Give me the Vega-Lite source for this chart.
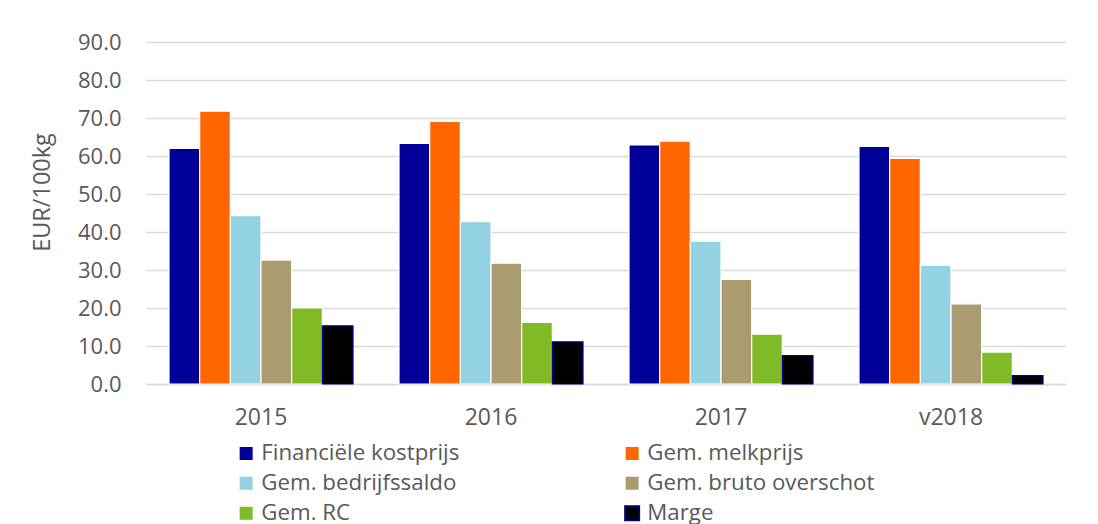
{
  "$schema": "https://vega.github.io/schema/vega-lite/v6.json",
  "width": 920,
  "height": 342,
  "autosize": {"type": "none"},
  "padding": {"left": 146, "top": 42, "right": 32, "bottom": 140},
  "background": "white",
  "config": {
    "font": "Open Sans",
    "view": {"stroke": null},
    "axis": {
      "labelFont": "Open Sans",
      "titleFont": "Open Sans",
      "labelColor": "#595959",
      "titleColor": "#595959",
      "labelFontSize": 22,
      "titleFontSize": 23.5,
      "titleFontWeight": "normal",
      "gridColor": "#D9D9D9",
      "gridWidth": 1.3,
      "ticks": false
    },
    "legend": {
      "labelFont": "Open Sans",
      "labelFontSize": 22.3,
      "labelColor": "#595959",
      "labelLimit": 400
    }
  },
  "data": {
    "values": [
      {"jaar": "2015", "reeks": "Financiële kostprijs", "waarde": 62.0},
      {"jaar": "2015", "reeks": "Gem. melkprijs", "waarde": 71.8},
      {"jaar": "2015", "reeks": "Gem. bedrijfssaldo", "waarde": 44.3},
      {"jaar": "2015", "reeks": "Gem. bruto overschot", "waarde": 32.6},
      {"jaar": "2015", "reeks": "Gem. RC", "waarde": 20.0},
      {"jaar": "2015", "reeks": "Marge", "waarde": 15.3},
      {"jaar": "2016", "reeks": "Financiële kostprijs", "waarde": 63.3},
      {"jaar": "2016", "reeks": "Gem. melkprijs", "waarde": 69.1},
      {"jaar": "2016", "reeks": "Gem. bedrijfssaldo", "waarde": 42.7},
      {"jaar": "2016", "reeks": "Gem. bruto overschot", "waarde": 31.8},
      {"jaar": "2016", "reeks": "Gem. RC", "waarde": 16.2},
      {"jaar": "2016", "reeks": "Marge", "waarde": 11.1},
      {"jaar": "2017", "reeks": "Financiële kostprijs", "waarde": 62.9},
      {"jaar": "2017", "reeks": "Gem. melkprijs", "waarde": 63.9},
      {"jaar": "2017", "reeks": "Gem. bedrijfssaldo", "waarde": 37.6},
      {"jaar": "2017", "reeks": "Gem. bruto overschot", "waarde": 27.5},
      {"jaar": "2017", "reeks": "Gem. RC", "waarde": 13.1},
      {"jaar": "2017", "reeks": "Marge", "waarde": 7.5},
      {"jaar": "v2018", "reeks": "Financiële kostprijs", "waarde": 62.5},
      {"jaar": "v2018", "reeks": "Gem. melkprijs", "waarde": 59.4},
      {"jaar": "v2018", "reeks": "Gem. bedrijfssaldo", "waarde": 31.3},
      {"jaar": "v2018", "reeks": "Gem. bruto overschot", "waarde": 21.1},
      {"jaar": "v2018", "reeks": "Gem. RC", "waarde": 8.4},
      {"jaar": "v2018", "reeks": "Marge", "waarde": 2.2}
    ]
  },
  "mark": {"type": "bar", "strokeWidth": 1.2},
  "encoding": {
    "x": {
      "field": "jaar",
      "type": "nominal",
      "sort": ["2015", "2016", "2017", "v2018"],
      "scale": {"paddingInner": 0.2, "paddingOuter": 0.1},
      "axis": {
        "title": null,
        "labelAngle": 0,
        "labelFontSize": 23,
        "labelPadding": 22,
        "domainColor": "#D9D9D9",
        "domainWidth": 1.3
      }
    },
    "xOffset": {
      "field": "reeks",
      "type": "nominal",
      "sort": ["Financiële kostprijs", "Gem. melkprijs", "Gem. bedrijfssaldo", "Gem. bruto overschot", "Gem. RC", "Marge"]
    },
    "y": {
      "field": "waarde",
      "type": "quantitative",
      "scale": {"domain": [0, 90], "nice": false},
      "axis": {
        "title": "EUR/100kg",
        "values": [0, 10, 20, 30, 40, 50, 60, 70, 80, 90],
        "format": ".1f",
        "domain": false,
        "labelPadding": 25,
        "titlePadding": 23,
        "titleY": 150
      }
    },
    "color": {
      "field": "reeks",
      "type": "nominal",
      "sort": ["Financiële kostprijs", "Gem. melkprijs", "Gem. bedrijfssaldo", "Gem. bruto overschot", "Gem. RC", "Marge"],
      "scale": {
        "domain": ["Financiële kostprijs", "Gem. melkprijs", "Gem. bedrijfssaldo", "Gem. bruto overschot", "Gem. RC", "Marge"],
        "range": ["#000099", "#FF6600", "#93D2E3", "#AA9B70", "#80BA27", "#000000"]
      },
      "legend": {
        "title": null,
        "orient": "none",
        "direction": "horizontal",
        "legendX": 89,
        "legendY": 400,
        "columns": 2,
        "columnPadding": 161,
        "rowPadding": 7,
        "symbolType": "square",
        "symbolSize": 210,
        "symbolOpacity": 1,
        "labelOffset": 4
      }
    },
    "stroke": {
      "field": "reeks",
      "type": "nominal",
      "scale": {
        "domain": ["Financiële kostprijs", "Gem. melkprijs", "Gem. bedrijfssaldo", "Gem. bruto overschot", "Gem. RC", "Marge"],
        "range": ["#ffffff", "#ffffff", "#ffffff", "#ffffff", "#ffffff", "#000099"]
      },
      "legend": null
    }
  }
}
